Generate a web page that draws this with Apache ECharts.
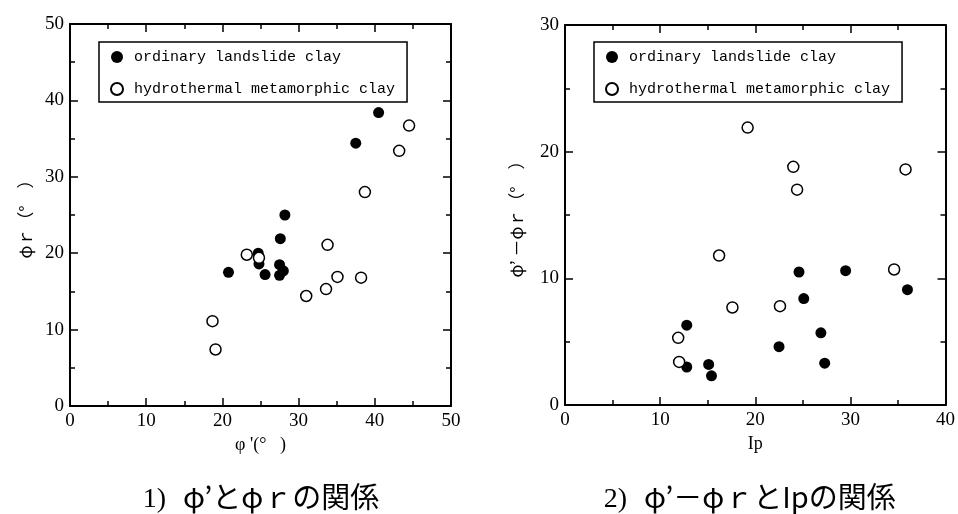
<!DOCTYPE html>
<html>
<head>
<meta charset="utf-8">
<script src="https://cdn.jsdelivr.net/npm/echarts@6/dist/echarts.min.js"></script>
<style>
  html, body { margin: 0; padding: 0; background: #fff; }
  #chart { width: 958px; height: 514px; }
</style>
</head>
<body>
<div id="chart"></div>
<script>
// 1) phi' vs phi r
const phiOrd = [40.5, 37.5, 28.2, 27.6, 24.7, 24.8, 20.8, 25.6, 27.5, 28.0, 27.5];
const phiROrd = [38.4, 34.4, 25.0, 21.9, 20.0, 18.6, 17.5, 17.2, 18.5, 17.7, 17.1];
const phiHyd = [44.5, 43.2, 38.7, 33.8, 23.2, 24.8, 35.1, 38.2, 33.6, 31.0, 18.7, 19.1];
const phiRHyd = [36.7, 33.4, 28.0, 21.1, 19.8, 19.4, 16.9, 16.8, 15.3, 14.4, 11.1, 7.4];

// 2) Ip vs phi' - phi r
const ipOrd = [12.8, 12.8, 15.1, 15.4, 22.5, 24.6, 25.1, 26.9, 27.3, 29.5, 36.0];
const diffOrd = [6.3, 3.0, 3.2, 2.3, 4.6, 10.5, 8.4, 5.7, 3.3, 10.6, 9.1];
const ipHyd = [19.2, 24.0, 24.4, 35.8, 16.2, 34.6, 17.6, 22.6, 11.9, 12.0];
const diffHyd = [21.9, 18.8, 17.0, 18.6, 11.8, 10.7, 7.7, 7.8, 5.3, 3.4];

const seriesNames = ["ordinary landslide clay", "hydrothermal metamorphic clay"];

const serif = "'Liberation Serif', 'Noto Sans CJK JP'";
const cjk = "'Noto Sans CJK JP'";
const zip = (xs, ys) => xs.map((x, i) => [x, ys[i]]);

function axis(gridIndex, position, max, opts) {
  const main = position === "bottom" || position === "left";
  return Object.assign({
    gridIndex,
    type: "value",
    position,
    min: 0,
    max,
    interval: 10,
    axisLine: { show: true, onZero: false, lineStyle: { color: "#000", width: 2 } },
    axisTick: { show: true, inside: true, length: 8, lineStyle: { color: "#000", width: 1.5 } },
    minorTick: { show: true, splitNumber: 2, length: 5, lineStyle: { color: "#000", width: 1.5 } },
    axisLabel: { show: main, color: "#000", fontFamily: serif, fontSize: 19, margin: 6 },
    splitLine: { show: false },
    nameLocation: "middle",
    nameTextStyle: { color: "#000", fontFamily: serif, fontSize: 18 }
  }, opts || {});
}

function legend(left) {
  return {
    data: seriesNames,
    orient: "vertical",
    left,
    top: 42,
    icon: "circle",
    itemWidth: 12,
    itemHeight: 12,
    itemGap: 12,
    padding: [5, 12, 3, 11],
    borderColor: "#000",
    borderWidth: 1.5,
    textStyle: { color: "#000", fontFamily: "'Liberation Mono'", fontSize: 15, lineHeight: 20, padding: [0, 0, 0, 6] }
  };
}

function label(x, y, text, font, align) {
  return { type: "text", x, y, style: { text, fill: "#000", font, textAlign: align, textVerticalAlign: "bottom" } };
}

const filled = { color: "#000", opacity: 1 };
const open = { color: "#fff", borderColor: "#000", borderWidth: 1.5, opacity: 1 };
const cjkName = { color: "#000", fontFamily: cjk, fontSize: 17 };

const chart = echarts.init(document.getElementById("chart"));
chart.setOption({
  animation: false,
  grid: [
    { left: 70, top: 24, width: 381, height: 382 },
    { left: 565, top: 25, width: 382, height: 380 }
  ],
  xAxis: [
    axis(0, "bottom", 50, { name: "φ '(°   )", nameGap: 30 }),
    axis(0, "top", 50),
    axis(1, "bottom", 40, { name: "Ip", nameGap: 30 }),
    axis(1, "top", 40)
  ],
  yAxis: [
    axis(0, "left", 50, { name: "φｒ（°　）", nameGap: 36, nameTextStyle: cjkName }),
    axis(0, "right", 50),
    axis(1, "left", 30, { name: "φ’ －φｒ（°　）", nameGap: 40, nameTextStyle: cjkName }),
    axis(1, "right", 30)
  ],
  legend: [legend(99), legend(594)],
  series: [
    { name: seriesNames[0], type: "scatter", xAxisIndex: 0, yAxisIndex: 0, symbolSize: 11, itemStyle: filled, data: zip(phiOrd, phiROrd) },
    { name: seriesNames[1], type: "scatter", xAxisIndex: 0, yAxisIndex: 0, symbolSize: 11, itemStyle: open, data: zip(phiHyd, phiRHyd) },
    { name: seriesNames[0], type: "scatter", xAxisIndex: 2, yAxisIndex: 2, symbolSize: 11, itemStyle: filled, data: zip(ipOrd, diffOrd) },
    { name: seriesNames[1], type: "scatter", xAxisIndex: 2, yAxisIndex: 2, symbolSize: 11, itemStyle: open, data: zip(ipHyd, diffHyd) }
  ],
  graphic: [
    label(166, 514, "1)", "28px 'Liberation Serif'", "right"),
    label(183, 511, "φ’とφｒの関係", "29px " + cjk, "left"),
    label(627, 514, "2)", "28px 'Liberation Serif'", "right"),
    label(644, 511, "φ’－φｒとIpの関係", "29px " + cjk, "left")
  ]
});
</script>
</body>
</html>
